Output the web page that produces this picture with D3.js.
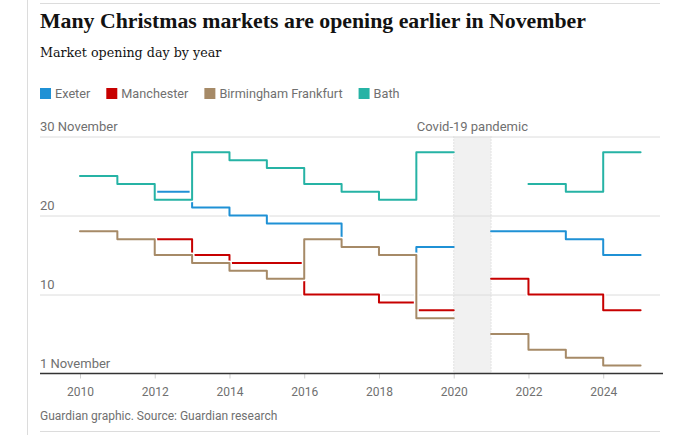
<!DOCTYPE html>
<html>
<head>
<meta charset="utf-8">
<script src="https://cdn.jsdelivr.net/npm/d3@7"></script>
<style>
  body { margin: 0; background: #fff; }
  svg { display: block; }
  text { font-family: Roboto, sans-serif; }
</style>
</head>
<body>
<div id="chart"></div>
<script>
'use strict';

// opening day in November, by year (null = no market that year)
var years = [2010, 2011, 2012, 2013, 2014, 2015, 2016, 2017, 2018, 2019, 2020, 2021, 2022, 2023, 2024];
var exeter     = [null, null, 23, 21, 20, 19, 19, 16, 15, 16, null, 18, 18, 17, 15];
var manchester = [null, null, 17, 15, 14, 14, 10, 10, 9, 8, null, 12, 10, 10, 8];
var birmingham = [18, 17, 15, 14, 13, 12, 17, 16, 15, 7, null, 5, 3, 2, 1];
var bath       = [25, 24, 22, 28, 27, 26, 24, 23, 22, 28, null, null, 24, 23, 28];

var seriesNames = ['Exeter', 'Manchester', 'Birmingham Frankfurt', 'Bath'];
var seriesValues = [exeter, manchester, birmingham, bath];
var colors = ['#1f91d5', '#c70000', '#a68a67', '#26b3a5'];

var xTicks = [2010, 2012, 2014, 2016, 2018, 2020, 2022, 2024];
var yTicks = [0, 10, 20, 30];
var yTickLabels = ['1 November', '10', '20', '30 November'];
var covid = [2020, 2021];

var width = 692, height = 435;
var svg = d3.select('#chart').append('svg')
    .attr('width', width)
    .attr('height', height);

var x = d3.scaleLinear().domain([2008.93, 2025.6]).range([40, 663]);
var y = d3.scaleLinear().domain([0, 30]).range([373.5, 136.5]);

// frame lines
svg.append('line').attr('x1', 27.5).attr('x2', 27.5).attr('y1', 0).attr('y2', height)
    .style('stroke', '#dcdcdc');
svg.append('line').attr('x1', 40).attr('x2', 660).attr('y1', 3.5).attr('y2', 3.5)
    .style('stroke', '#dcdcdc');
svg.append('line').attr('x1', 40).attr('x2', 660).attr('y1', 431.5).attr('y2', 431.5)
    .style('stroke', '#dcdcdc');

// headings
svg.append('text').attr('x', 40).attr('y', 28)
    .style('font-family', '"Liberation Serif", serif')
    .style('font-weight', 'bold')
    .style('font-size', '21.8px')
    .style('fill', '#121212')
    .text('Many Christmas markets are opening earlier in November');

svg.append('text').attr('x', 40).attr('y', 57)
    .style('font-family', '"DejaVu Serif", serif')
    .style('font-size', '12.7px')
    .style('fill', '#121212')
    .text('Market opening day by year');

// legend
var legendX = 40;
seriesNames.forEach(function(name, i) {
    var g = svg.append('g').attr('transform', 'translate(' + legendX + ',88)');
    g.append('rect').attr('width', 11).attr('height', 11).style('fill', colors[i]);
    var t = g.append('text').attr('x', 15).attr('y', 10)
        .style('font-size', '12.7px')
        .style('fill', '#707070')
        .text(name);
    legendX += 15 + t.node().getComputedTextLength() + 16;
});

// covid band
svg.append('rect')
    .attr('x', x(covid[0])).attr('y', y(30))
    .attr('width', x(covid[1]) - x(covid[0]))
    .attr('height', y(0) - y(30))
    .style('fill', '#f1f1f1');
covid.forEach(function(c) {
    svg.append('line')
        .attr('x1', x(c)).attr('x2', x(c))
        .attr('y1', y(30)).attr('y2', y(0))
        .style('stroke', '#d0d0d0')
        .style('stroke-dasharray', '1,2');
});

// gridlines + y labels
var grid = svg.append('g');
yTicks.forEach(function(v, i) {
    if (v > 0) {
        grid.append('line')
            .attr('x1', 40).attr('x2', 660)
            .attr('y1', y(v) + 0.5).attr('y2', y(v) + 0.5)
            .style('stroke', '#dcdcdc');
    }
    grid.append('text')
        .attr('x', 40).attr('y', y(v) - 6)
        .style('font-size', '13px')
        .style('fill', '#707070')
        .text(yTickLabels[i]);
});

svg.append('text')
    .attr('x', (x(covid[0]) + x(covid[1])) / 2).attr('y', y(30) - 6)
    .attr('text-anchor', 'middle')
    .style('font-size', '13px')
    .style('fill', '#707070')
    .text('Covid-19 pandemic');

// x axis
var xAxis = svg.append('g')
    .attr('transform', 'translate(0,' + y(0) + ')')
    .call(d3.axisBottom(x).tickValues(xTicks).tickFormat(d3.format('d')).tickSize(5).tickPadding(9));
xAxis.select('.domain').remove();
xAxis.selectAll('.tick line').style('stroke', '#cfcfcf');
xAxis.selectAll('.tick text')
    .style('font-family', 'Roboto, sans-serif')
    .style('font-size', '12px')
    .style('fill', '#707070');
svg.append('line')
    .attr('x1', 40).attr('x2', 663)
    .attr('y1', y(0)).attr('y2', y(0))
    .style('stroke', '#333')
    .style('stroke-width', 1.5);

// step lines: each run of defined years lasts until the next year
function runs(values) {
    var out = [], cur = null;
    values.forEach(function(v, i) {
        if (v === null) { cur = null; return; }
        if (!cur) { cur = []; out.push(cur); }
        cur.push([years[i], v]);
    });
    out.forEach(function(r) {
        var last = r[r.length - 1];
        r.push([last[0] + 1, last[1]]);
    });
    return out;
}

var line = d3.line()
    .x(function(d) { return x(d[0]); })
    .y(function(d) { return y(d[1]); })
    .curve(d3.curveStepAfter);

seriesValues.forEach(function(values, i) {
    var g = svg.append('g');
    runs(values).forEach(function(r) {
        g.append('path').attr('d', line(r))
            .style('fill', 'none')
            .style('stroke', '#fff')
            .style('stroke-width', 5)
            .style('stroke-linejoin', 'round');
        g.append('path').attr('d', line(r))
            .style('fill', 'none')
            .style('stroke', colors[i])
            .style('stroke-width', 2)
            .style('stroke-linejoin', 'round')
            .style('stroke-linecap', 'round');
    });
});

// source
svg.append('text').attr('x', 40).attr('y', 420)
    .style('font-size', '12px')
    .style('fill', '#707070')
    .text('Guardian graphic. Source: Guardian research');
</script>
</body>
</html>
